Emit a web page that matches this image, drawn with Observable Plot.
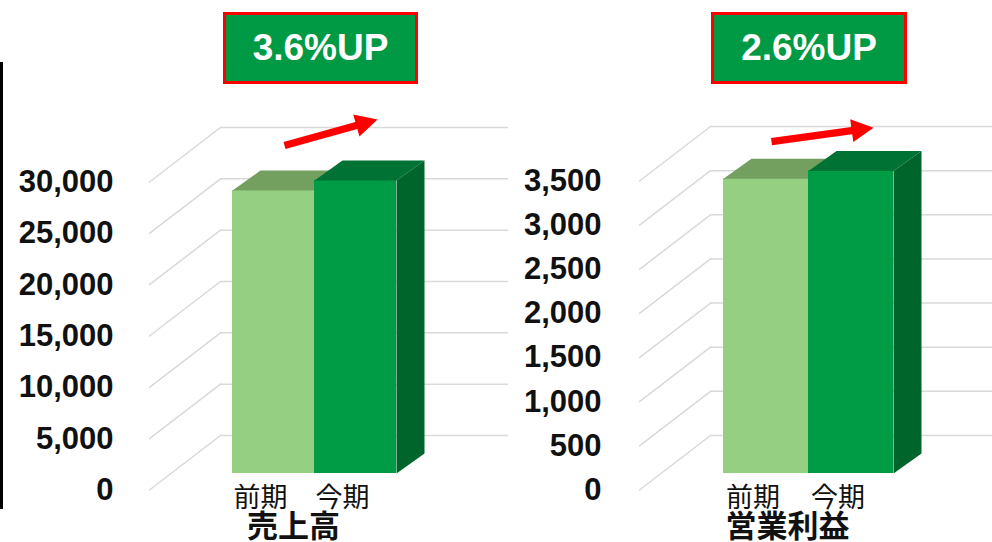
<!DOCTYPE html>
<html>
<head>
<meta charset="utf-8">
<script src="https://cdn.jsdelivr.net/npm/d3@7"></script>
<script src="https://cdn.jsdelivr.net/npm/@observablehq/plot@0.6"></script>
<style>
  html, body { margin: 0; padding: 0; background: #fff; }
  #wrap { position: relative; width: 992px; height: 542px; overflow: hidden; background: #fff; }
  .badge { position: absolute; top: 12px; height: 72px; box-sizing: border-box; border: 3px solid #ff0000;
           background: #009944; color: #fff; font: bold 37px "Liberation Sans", Arial, sans-serif;
           display: flex; align-items: center; justify-content: center; }
  .edge { position: absolute; left: 0; top: 62px; width: 3px; height: 447px; background: #000; }
</style>
</head>
<body>
<div id="wrap"></div>
<script>
// ---- data ----
const periods = ["前期", "今期"];
const salesValues = [27560, 28550];
const profitValues = [3340, 3427];
const salesTicks = [0, 5000, 10000, 15000, 20000, 25000, 30000];
const profitTicks = [0, 500, 1000, 1500, 2000, 2500, 3000, 3500];
const chartTitles = ["売上高", "営業利益"];
const growthLabels = ["3.6%UP", "2.6%UP"];

// ---- styles / layout ----
const barColors = [
  {front: "#95d082", top: "#739f5f", side: "#5e8a4c"},
  {front: "#009b45", top: "#007234", side: "#00652b"}
];
const DEPTH = {x: 28, y: 20};        // bar depth offset
const BACK = {dx: 50, dy: -38};      // back wall relative to bar front plane
const FLOOR = {x: -71, y: 54.5};     // floor diagonal from back wall to front
const gridColor = "#d9d9d9";
const H = 542, MB = 69;
const numFormat = d3.format(",d");

const layouts = [
  {left: 0, width: 520, marginLeft: 170, marginRight: 62, marginTop: 165, paddingOuter: 0.756, labelDx: -57,
   arrow: {dx: 11, dy: -45, rotate: 74.4, length: 96.6}, badge: {left: 223, width: 195}},
  {left: 496, width: 496, marginLeft: 164, marginRight: 36, marginTop: 164, paddingOuter: 0.741, labelDx: -59,
   arrow: {dx: 5.5, dy: -37, rotate: 82.2, length: 103}, badge: {left: 711, width: 196}}
];

function arrowShape(L) {
  const hw = 3.6, head = 22, hh = 11.5;
  return {draw(c) {
    c.moveTo(-hw, 0); c.lineTo(-hw, -(L - head)); c.lineTo(-hh, -(L - head)); c.lineTo(0, -L);
    c.lineTo(hh, -(L - head)); c.lineTo(hw, -(L - head)); c.lineTo(hw, 0); c.closePath();
  }};
}
const floorShape = {draw(c) { c.moveTo(0, 0); c.lineTo(FLOOR.x, FLOOR.y); }};

function buildChart(values, ticks, title, cfg) {
  const data = periods.map((p, i) => ({period: p, value: values[i]}));
  const yMax = ticks[ticks.length - 1];
  const rangePx = H - MB - cfg.marginTop;
  const bw = d3.scaleBand().domain(periods)
    .range([cfg.marginLeft, cfg.width - cfg.marginRight])
    .paddingInner(0).paddingOuter(cfg.paddingOuter).bandwidth();
  const h = bw / 2;
  const topShape = {draw(c) {
    c.moveTo(-h, 0); c.lineTo(h, 0); c.lineTo(h + DEPTH.x, -DEPTH.y); c.lineTo(-h + DEPTH.x, -DEPTH.y); c.closePath();
  }};
  const sideShape = {draw(c, l) {
    c.moveTo(h, 0); c.lineTo(h + DEPTH.x, -DEPTH.y); c.lineTo(h + DEPTH.x, l - DEPTH.y); c.lineTo(h, l); c.closePath();
  }};

  const svg = Plot.plot({
    width: cfg.width,
    height: H,
    marginLeft: cfg.marginLeft,
    marginRight: cfg.marginRight,
    marginTop: cfg.marginTop,
    marginBottom: MB,
    style: {fontFamily: "'Liberation Sans', Arial, sans-serif", background: "transparent"},
    x: {type: "band", domain: periods, paddingInner: 0, paddingOuter: cfg.paddingOuter, round: false},
    y: {domain: [0, yMax]},
    length: {domain: [0, yMax], range: [0, rangePx]},
    marks: [
      Plot.ruleY(ticks, {dx: BACK.dx, dy: BACK.dy, stroke: gridColor, strokeWidth: 1.5}),
      Plot.vector(ticks, {y: d => d, frameAnchor: "left", dx: BACK.dx, dy: BACK.dy, anchor: "start",
        shape: floorShape, stroke: gridColor, strokeWidth: 1.5}),
      Plot.axisY(ticks, {anchor: "left", tickSize: 0, tickPadding: 0, dx: cfg.labelDx, dy: 16.5,
        tickFormat: numFormat, fontSize: 31, fontWeight: "bold", fill: "#111", label: null}),
      ...data.flatMap((d, i) => [
        Plot.barY([d], {x: "period", y: "value", fill: barColors[i].front}),
        Plot.vector([d], {x: "period", y: "value", anchor: "start", shape: topShape,
          fill: barColors[i].top, stroke: "none"}),
        Plot.vector([d], {x: "period", y: "value", length: "value", anchor: "start", shape: sideShape,
          fill: barColors[i].side, stroke: "none"})
      ]),
      Plot.axisX({tickSize: 0, tickPadding: 14, dx: -13, fontSize: 27,
        fontFamily: "'Noto Sans CJK JP', sans-serif", fill: "#111", label: null}),
      Plot.text([title], {text: d => d, frameAnchor: "bottom", dx: -21, dy: 54, lineAnchor: "middle",
        fontSize: 31, fontWeight: "bold", fontFamily: "'Noto Sans CJK JP', sans-serif", fill: "#111"}),
      Plot.vector([data[0]], {x: "period", y: "value", dx: cfg.arrow.dx, dy: cfg.arrow.dy,
        rotate: cfg.arrow.rotate, anchor: "start", shape: arrowShape(cfg.arrow.length),
        fill: "#ff0000", stroke: "none"})
    ]
  });
  svg.style.position = "absolute";
  svg.style.left = cfg.left + "px";
  svg.style.top = "0px";
  return svg;
}

const wrap = document.getElementById("wrap");
const edge = document.createElement("div");
edge.className = "edge";
wrap.appendChild(edge);
wrap.appendChild(buildChart(salesValues, salesTicks, chartTitles[0], layouts[0]));
wrap.appendChild(buildChart(profitValues, profitTicks, chartTitles[1], layouts[1]));
layouts.forEach((cfg, i) => {
  const b = document.createElement("div");
  b.className = "badge";
  b.style.left = cfg.badge.left + "px";
  b.style.width = cfg.badge.width + "px";
  b.textContent = growthLabels[i];
  wrap.appendChild(b);
});
</script>
</body>
</html>
